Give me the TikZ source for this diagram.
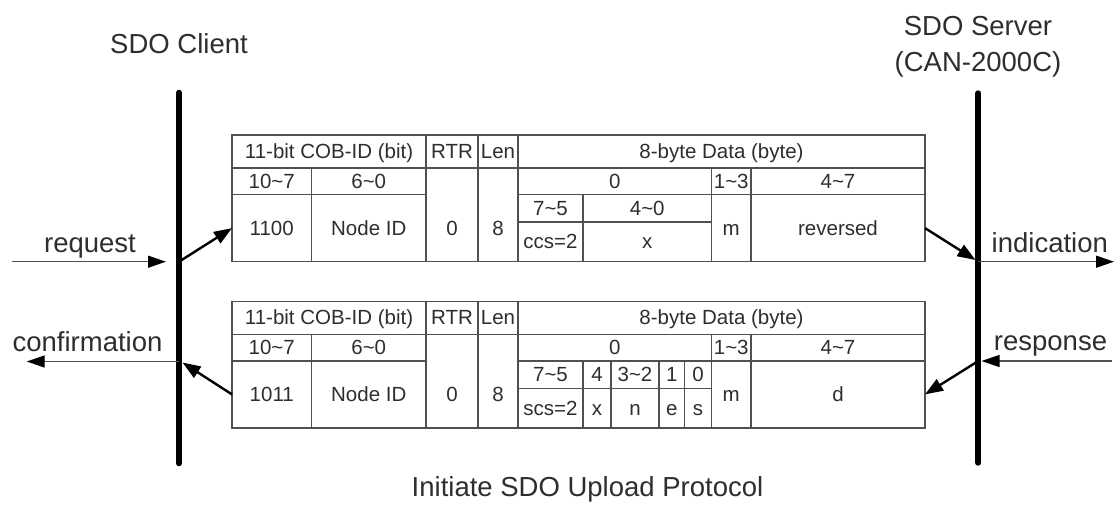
\documentclass[tikz,border=0pt]{standalone}
\usepackage{fontspec}
\setmainfont{Liberation Sans}
\usetikzlibrary{arrows.meta}
\definecolor{txt}{HTML}{2E2E2E}
\definecolor{gridc}{HTML}{505050}
\newcommand\cellfont{\fontsize{20.5}{24}\selectfont}
\newcommand\titlefont{\fontsize{27.5}{32}\selectfont}
\tikzset{
  cellbox/.style={draw=gridc, line width=1.5pt, inner sep=0pt, outer sep=0pt, rectangle,
    text=txt, font=\cellfont, text height=18.55pt, text depth=4.35pt},
  celltext/.style={inner sep=0pt, outer sep=0pt, text=txt, font=\cellfont,
    text height=18.55pt, text depth=4.35pt},
  titletext/.style={inner sep=0pt, outer sep=0pt, text=txt, font=\titlefont, anchor=base},
  lifeline/.style={line width=6pt, line cap=round, black},
  harrow/.style={draw=gridc, line width=1.4pt, -{Triangle[length=18pt,width=12pt,color=black]}},
  darrow/.style={line width=2.4pt, black, -{Triangle[length=18pt,width=13pt]}},
}
\newcommand\mkcell[6]{\node[cellbox, minimum width={#4-#2}, minimum height={#5-#3}] (#1) at ({(#2+#4)/2},{(#3+#5)/2}) {#6};}
\newcommand\tl{\textasciitilde}
\begin{document}
\begin{tikzpicture}[x=1pt,y=-1pt]
\useasboundingbox (0,0) rectangle (1115,507);
\fill[white] (0,0) rectangle (1115,507);

% titles
\node[titletext] (client) at (179,53.3) {SDO Client};
\node[titletext] (server) at (978,35) {SDO Server};
\node[titletext] (server2) at (978,71.7) {(CAN-2000C)};
\node[titletext] (caption) at (587.5,496.7) {Initiate SDO Upload Protocol};

% ---------- request frame ----------
\mkcell{q-cob}{232}{135}{426}{168}{11-bit COB-ID (bit)}
\mkcell{q-rtr}{426}{135}{478}{168}{RTR}
\mkcell{q-len}{478}{135}{518}{168}{Len}
\mkcell{q-data}{518}{135}{925}{168}{8-byte Data (byte)}
\mkcell{q-b107}{232}{168}{311.5}{194.5}{10\tl7}
\mkcell{q-b60}{311.5}{168}{426}{194.5}{6\tl0}
\mkcell{q-rtrv}{426}{168}{478}{261.7}{}
\mkcell{q-lenv}{478}{168}{518}{261.7}{}
\node[celltext] (q-rtrt) at (452,228.1) {0};
\node[celltext] (q-lent) at (498,228.1) {8};
\mkcell{q-y0}{518}{168}{711.5}{194.5}{0}
\mkcell{q-y13}{711.5}{168}{751}{194.5}{1\tl3}
\mkcell{q-y47}{751}{168}{925}{194.5}{4\tl7}
\mkcell{q-fn}{232}{194.5}{311.5}{261.7}{1100}
\mkcell{q-node}{311.5}{194.5}{426}{261.7}{Node ID}
\mkcell{q-b75}{518}{194.5}{583}{222}{7\tl5}
\mkcell{q-b40}{583}{194.5}{711.5}{222}{4\tl0}
\mkcell{q-ccs}{518}{222}{583}{261.7}{ccs=2}
\mkcell{q-x}{583}{222}{711.5}{261.7}{x}
\mkcell{q-m}{711.5}{194.5}{751}{261.7}{m}
\mkcell{q-rest}{751}{194.5}{925}{261.7}{reversed}

% ---------- response frame ----------
\mkcell{r-cob}{232}{301.3}{426}{334.3}{11-bit COB-ID (bit)}
\mkcell{r-rtr}{426}{301.3}{478}{334.3}{RTR}
\mkcell{r-len}{478}{301.3}{518}{334.3}{Len}
\mkcell{r-data}{518}{301.3}{925}{334.3}{8-byte Data (byte)}
\mkcell{r-b107}{232}{334.3}{311.5}{360.8}{10\tl7}
\mkcell{r-b60}{311.5}{334.3}{426}{360.8}{6\tl0}
\mkcell{r-rtrv}{426}{334.3}{478}{428}{}
\mkcell{r-lenv}{478}{334.3}{518}{428}{}
\node[celltext] (r-rtrt) at (452,394.4) {0};
\node[celltext] (r-lent) at (498,394.4) {8};
\mkcell{r-y0}{518}{334.3}{711.5}{360.8}{0}
\mkcell{r-y13}{711.5}{334.3}{751}{360.8}{1\tl3}
\mkcell{r-y47}{751}{334.3}{925}{360.8}{4\tl7}
\mkcell{r-fn}{232}{360.8}{311.5}{428}{1011}
\mkcell{r-node}{311.5}{360.8}{426}{428}{Node ID}
\mkcell{r-b75}{518}{360.8}{583}{388.3}{7\tl5}
\mkcell{r-b4}{583}{360.8}{611}{388.3}{4}
\mkcell{r-b32}{611}{360.8}{659}{388.3}{3\tl2}
\mkcell{r-b1}{659}{360.8}{684.5}{388.3}{1}
\mkcell{r-b0}{684.5}{360.8}{711.5}{388.3}{0}
\mkcell{r-scs}{518}{388.3}{583}{428}{scs=2}
\mkcell{r-x}{583}{388.3}{611}{428}{x}
\mkcell{r-n}{611}{388.3}{659}{428}{n}
\mkcell{r-e}{659}{388.3}{684.5}{428}{e}
\mkcell{r-s}{684.5}{388.3}{711.5}{428}{s}
\mkcell{r-m}{711.5}{360.8}{751}{428}{m}
\mkcell{r-d}{751}{360.8}{925}{428}{d}

% ---------- lifelines ----------
\coordinate (cliTop) at (179,92.7);
\coordinate (cliBot) at (179,463.3);
\coordinate (srvTop) at (978.3,93.3);
\coordinate (srvBot) at (978.3,462.7);
\draw[lifeline] (cliTop) -- (cliBot);
\draw[lifeline] (srvTop) -- (srvBot);

% points on the lifelines and free ends
\coordinate (cliReq) at (179,261.7);
\coordinate (cliConfIn) at (182.5,362.5);
\coordinate (cliConf) at (179,361.5);
\coordinate (srvIndIn) at (975.5,260);
\coordinate (srvInd) at (978.3,261.7);
\coordinate (srvResp) at (978.3,361);
\coordinate (reqStart) at (11.7,261.7);
\coordinate (reqTip) at (166,261.7);
\coordinate (indTip) at (1114,261.7);
\coordinate (respStart) at (1111.7,361);
\coordinate (respTip) at (981.5,361);
\coordinate (confTip) at (26.7,361.5);

% labels
\node[titletext] (lreq) at (90,252) {request};
\node[titletext] (lind) at (1049.8,252.7) {indication};
\node[titletext] (lconf) at (87.5,351.7) {confirmation};
\node[titletext] (lresp) at (1050.5,350.5) {response};

% arrows
\draw[harrow] (reqStart) -- (reqTip);
\draw[darrow] (cliReq) -- (q-fn.west);
\draw[darrow] (q-rest.east) -- (srvIndIn);
\draw[harrow] (srvInd) -- (indTip);
\draw[harrow] (respStart) -- (respTip);
\draw[darrow] (srvResp) -- (r-d.east);
\draw[darrow] (r-fn.west) -- (cliConfIn);
\draw[harrow] (cliConf) -- (confTip);
\end{tikzpicture}
\end{document}
